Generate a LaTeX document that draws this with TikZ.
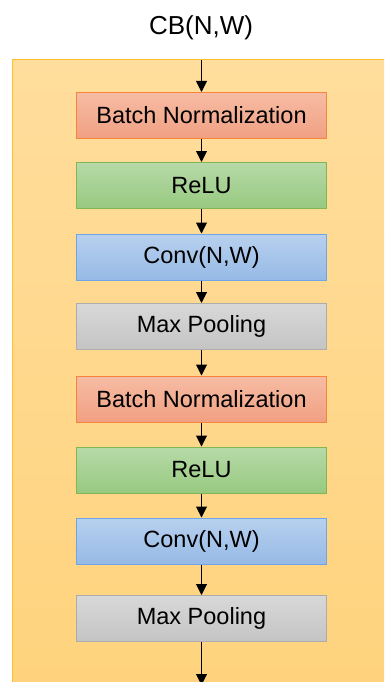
\documentclass[tikz,border=0pt]{standalone}
\usepackage{fontspec}
\setmainfont{Liberation Sans}
\usetikzlibrary{arrows.meta}

\definecolor{contfill}{RGB}{255,221,156}
\definecolor{contfillb}{RGB}{255,211,125}
\definecolor{contline}{RGB}{255,192,40}

\tikzset{
  layer/.style={draw,line width=1pt,minimum width=250pt,minimum height=46pt,inner sep=0pt,
    font=\fontsize{23.5}{28}\selectfont},
  bnbox/.style={layer,draw={rgb,255:red,246;green,132;blue,60},
    top color={rgb,255:red,246;green,188;blue,164},bottom color={rgb,255:red,241;green,160;blue,130}},
  relubox/.style={layer,draw={rgb,255:red,130;green,182;blue,84},
    top color={rgb,255:red,183;green,218;blue,168},bottom color={rgb,255:red,151;green,201;blue,128}},
  convbox/.style={layer,draw={rgb,255:red,110;green,165;blue,230},
    top color={rgb,255:red,184;green,208;blue,238},bottom color={rgb,255:red,150;green,186;blue,230}},
  poolbox/.style={layer,draw={rgb,255:red,172;green,172;blue,172},
    top color={rgb,255:red,216;green,216;blue,216},bottom color={rgb,255:red,196;green,196;blue,196}},
  flow/.style={line width=1pt,-{Triangle[width=11pt,length=11pt]}}
}

\begin{document}
\begin{tikzpicture}[x=1pt,y=-1pt]
  \clip (0,0) rectangle (384,682);
  \fill[white] (0,0) rectangle (384,682);

  % container
  \draw[contline,line width=1pt,top color=contfill,bottom color=contfillb] (12.5,60) rectangle (400,700);
  \node[font=\fontsize{26}{30}\selectfont,inner sep=0pt] (title) at (201,28) {CB(N,W)};

  \coordinate (in) at (201.5,60);
  \node[bnbox]   (bn1)   at (201.5,115.5) {Batch Normalization};
  \node[relubox] (relu1) at (201.5,185.5) {ReLU};
  \node[convbox] (conv1) at (201.5,257)   {Conv(N,W)};
  \node[poolbox] (pool1) at (201.5,326.5) {Max Pooling};
  \node[bnbox]   (bn2)   at (201.5,399)   {Batch Normalization};
  \node[relubox] (relu2) at (201.5,470)   {ReLU};
  \node[convbox] (conv2) at (201.5,541)   {Conv(N,W)};
  \node[poolbox] (pool2) at (201.5,618.5) {Max Pooling};
  \coordinate (out) at (201.5,685);

  \draw[flow] (in) -- (bn1);
  \draw[flow] (bn1) -- (relu1);
  \draw[flow] (relu1) -- (conv1);
  \draw[flow] (conv1) -- (pool1);
  \draw[flow] (pool1) -- (bn2);
  \draw[flow] (bn2) -- (relu2);
  \draw[flow] (relu2) -- (conv2);
  \draw[flow] (conv2) -- (pool2);
  \draw[flow] (pool2) -- (out);
\end{tikzpicture}
\end{document}
